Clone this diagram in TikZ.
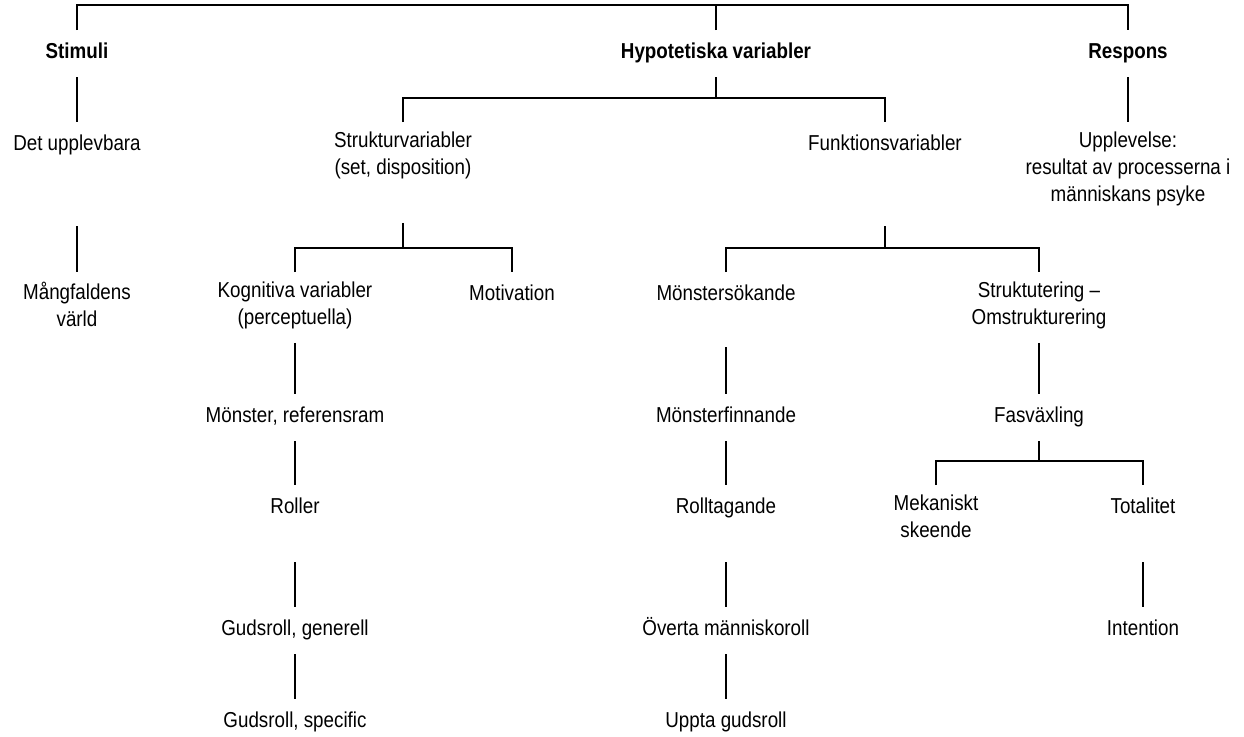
\documentclass[tikz,border=0pt]{standalone}
\usepackage{fontspec}
\setmainfont{Liberation Sans}[FakeStretch=0.87]
\tikzset{
  term/.style={align=center, inner sep=0pt, outer sep=5pt, anchor=north,
    font=\fontsize{10.8pt}{13.5pt}\selectfont,
    execute at begin node=\strut, execute at end node=\strut},
  head/.style={term, font=\fontsize{10.8pt}{13.5pt}\selectfont\bfseries},
  dropgap/.style={shorten <=#1},
}
\begin{document}
\begin{tikzpicture}[x=0.5pt, y=-0.5pt, line width=1pt]
    \useasboundingbox (0,0) rectangle (1244,736);
    % Top level
    \node[head] (stim) at (77,30)   {Stimuli};
    \node[head] (hyp)  at (716,30)  {Hypotetiska variabler};
    \node[head] (resp) at (1128,30) {Respons};
    %
    \node[term] (det)   at (77,122)   {Det upplevbara};
    \node[term] (struk) at (403,122)  {Strukturvariabler\\(set, disposition)};
    \node[term] (funk)  at (885,122)  {Funktionsvariabler};
    \node[term] (upp)   at (1128,122) {Upplevelse:\\resultat av processerna i\\människans psyke};
    %
    \node[term] (mang)   at (77,272)   {Mångfaldens\\värld};
    \node[term] (kogn)   at (295,272)  {Kognitiva variabler\\(perceptuella)};
    \node[term] (motiv)  at (512,272)  {Motivation};
    \node[term] (msok)   at (726,272)  {Mönstersökande};
    \node[term] (strukt) at (1039,272) {Struktutering --\\Omstrukturering};
    %
    \node[term] (monst) at (295,394)  {Mönster, referensram};
    \node[term] (mfinn) at (726,394)  {Mönsterfinnande};
    \node[term] (fas)   at (1039,394) {Fasväxling};
    %
    \node[term] (roller) at (295,485)  {Roller};
    \node[term] (rollt)  at (726,485)  {Rolltagande};
    \node[term] (mek)    at (936,485)  {Mekaniskt\\skeende};
    \node[term] (total)  at (1143,485) {Totalitet};
    %
    \node[term] (gudgen) at (295,607)  {Gudsroll, generell};
    \node[term] (overta) at (726,607)  {Överta människoroll};
    \node[term] (intent) at (1143,607) {Intention};
    %
    \node[term] (gudspec) at (295,699) {Gudsroll, specific};
    \node[term] (uppta)   at (726,699) {Uppta gudsroll};

    % Brackets
    \coordinate (top)    at (716,5);
    \coordinate (hbar)   at (716,98);
    \coordinate (sbar)   at (403,248);
    \coordinate (fbar)   at (885,248);
    \coordinate (fasbar) at (1039,461);
    \draw (stim.north) |- (top) -| (resp.north);
    \draw (hyp.north) -- (top);
    \draw (hyp.south) -- (hbar);
    \draw (struk.north) |- (hbar) -| (funk.north);
    \draw[dropgap=15pt] (struk.south) -- (sbar);
    \draw (kogn.north) |- (sbar) -| (motiv.north);
    \draw[dropgap=28.5pt] (funk.south) -- (fbar);
    \draw (msok.north) |- (fbar) -| (strukt.north);
    \draw (fas.south) -- (fasbar);
    \draw (mek.north) |- (fasbar) -| (total.north);

    % Chains
    \draw (stim.south) -- (det.north);
    \draw[dropgap=28.5pt] (det.south) -- (mang.north);
    \draw (resp.south) -- (upp.north);
    %
    \draw (kogn.south) -- (monst.north);
    \draw (monst.south) -- (roller.north);
    \draw[dropgap=15pt] (roller.south) -- (gudgen.north);
    \draw (gudgen.south) -- (gudspec.north);
    %
    \draw[dropgap=14pt] (msok.south) -- (mfinn.north);
    \draw (mfinn.south) -- (rollt.north);
    \draw[dropgap=15pt] (rollt.south) -- (overta.north);
    \draw (overta.south) -- (uppta.north);
    %
    \draw (strukt.south) -- (fas.north);
    \draw[dropgap=15pt] (total.south) -- (intent.north);
\end{tikzpicture}
\end{document}
